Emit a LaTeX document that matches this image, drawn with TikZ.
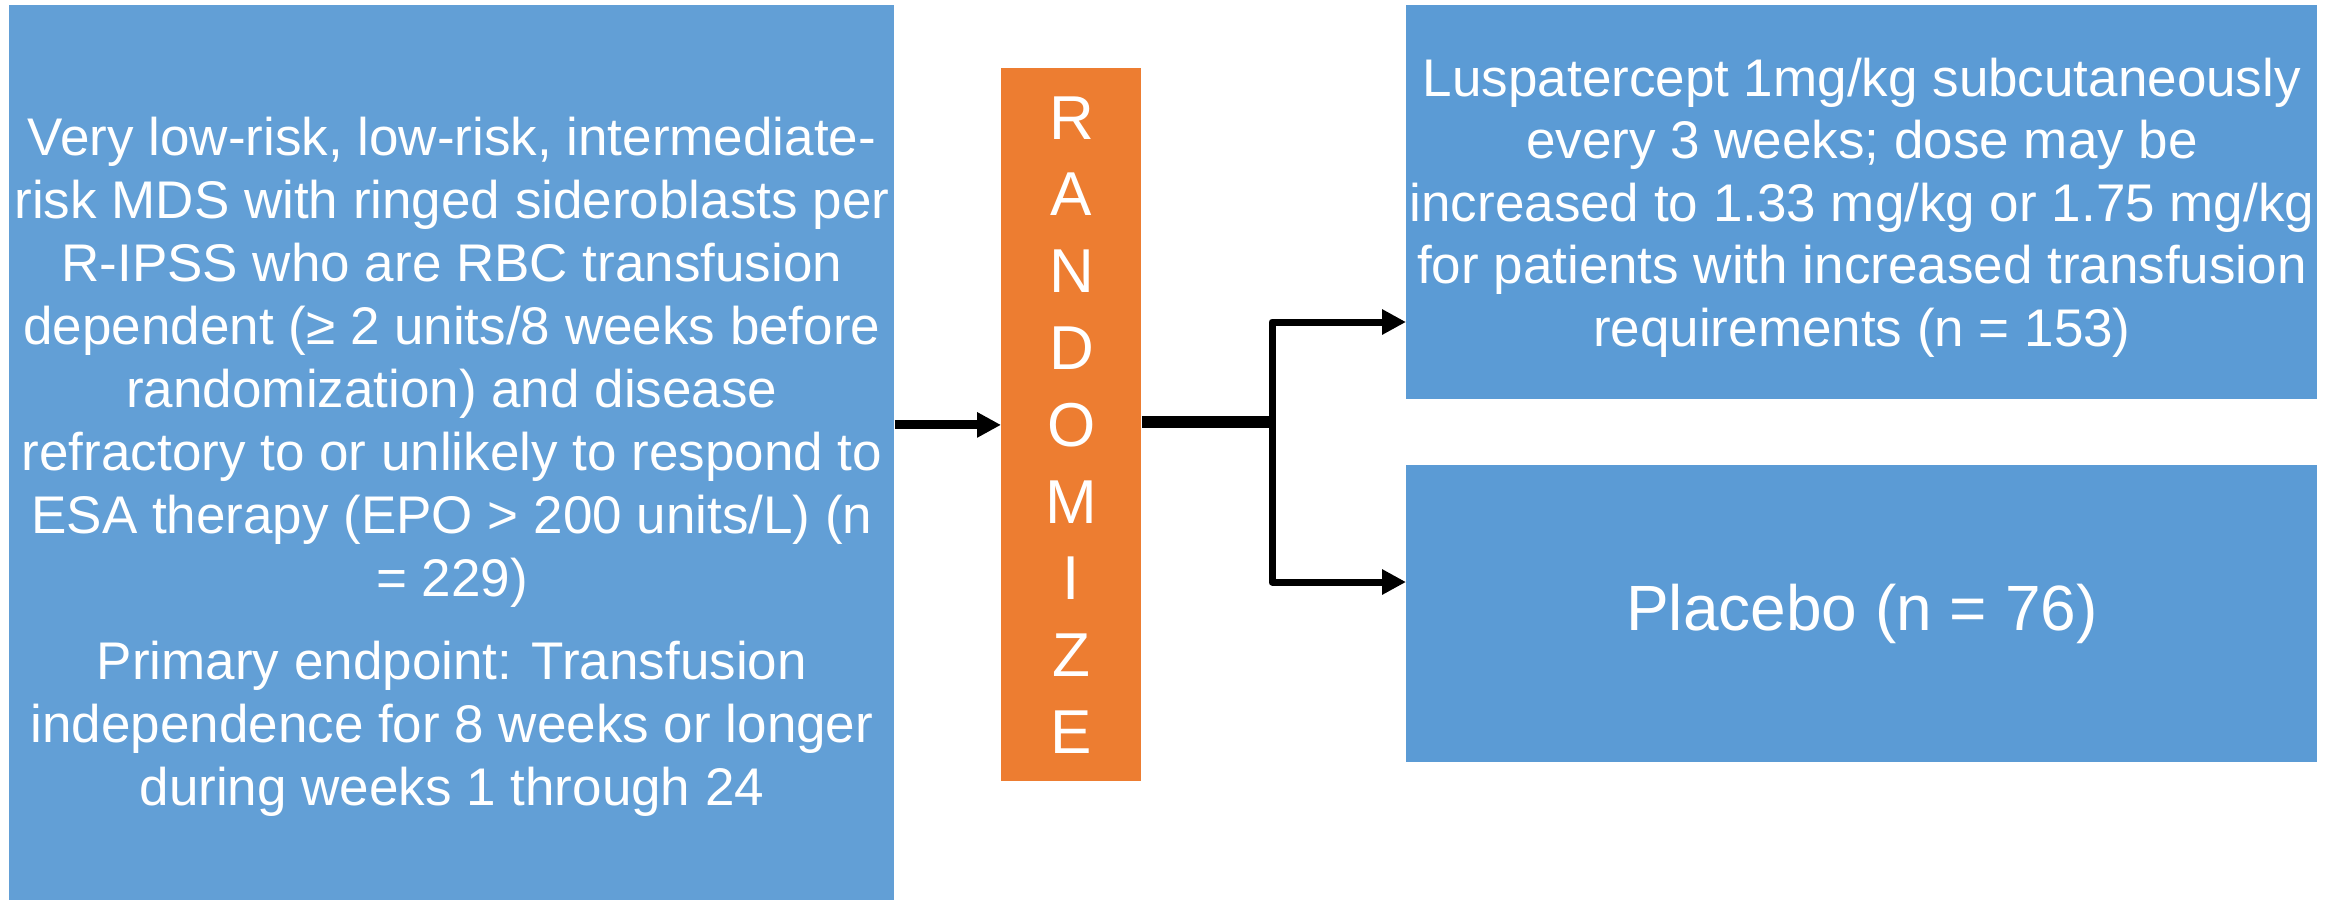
\documentclass[tikz,border=0pt]{standalone}
\usepackage{fontspec}
\setmainfont{Liberation Sans}
\usetikzlibrary{arrows.meta}
\definecolor{screen-blue}{HTML}{629FD6}
\definecolor{arm-blue}{HTML}{5B9BD5}
\definecolor{rand-orange}{HTML}{ED7D31}
\tikzset{
    flow-box/.style = {rectangle, anchor=north west, inner sep=0pt, text=white, align=center},
    flow-text/.style = {inner sep=0pt, text=white, align=center, font=\fontsize{26.5}{31.5}\selectfont},
    flow-arrow/.style = {draw=black, line width=4.5pt, -{Triangle[length=12pt, width=12pt]}},
}

\begin{document}
\begin{tikzpicture}[x=0.5pt, y=-0.5pt]
\useasboundingbox (0,0) rectangle (2338,902);
\node [flow-box, fill=screen-blue, minimum width=442.5pt, minimum height=447.5pt] (screen) at (9,5) {};
\node [flow-text] (screen-text) at ([yshift=-7pt]screen.center) {Very low-risk, low-risk, intermediate-\\
    risk MDS with ringed sideroblasts per\\ R-IPSS who are RBC transfusion\\
    dependent (≥ 2 units/8 weeks before\\ randomization) and disease\\
    refractory to or unlikely to respond to\\ ESA therapy (EPO > 200 units/L) (n\\ = 229)\\[10pt]
    Primary endpoint: Transfusion\\ independence for 8 weeks or longer\\ during weeks 1 through 24};
\node [flow-box, fill=rand-orange, minimum width=70pt, minimum height=356.5pt,
    font=\fontsize{31}{38.4}\selectfont] (rand) at (1001,68) {R\\ A\\ N\\ D\\ O\\ M\\ I\\ Z\\ E};
\node [flow-box, fill=arm-blue, minimum width=455.5pt, minimum height=197pt] (lusp) at (1406,5) {};
\node [flow-text, font=\fontsize{26.5}{31.25}\selectfont] (lusp-text) at ([yshift=-2.5pt]lusp.center)
    {Luspatercept 1mg/kg subcutaneously\\ every 3 weeks; dose may be\\ increased to 1.33 mg/kg or 1.75 mg/kg\\
    for patients with increased transfusion\\ requirements (n = 153)};
\node [flow-box, fill=arm-blue, minimum width=455.5pt, minimum height=148.5pt,
    font=\fontsize{32}{38}\selectfont] (plac) at (1406,465) {Placebo (n = 76)};
\coordinate (fork) at (1272,422);
\coordinate (lusp-in) at (1406,322);
\coordinate (plac-in) at (1406,582);
\draw [flow-arrow] (screen.east |- rand.west) -- (rand.west);
\draw [line width=6pt] (rand.east |- fork) -- (fork);
\draw [flow-arrow, line width=3.5pt, line join=round, {Triangle[length=12pt, width=12pt]}-{Triangle[length=12pt, width=12pt]}]
    (lusp-in) -| (fork) |- (plac-in);
\end{tikzpicture}
\end{document}
